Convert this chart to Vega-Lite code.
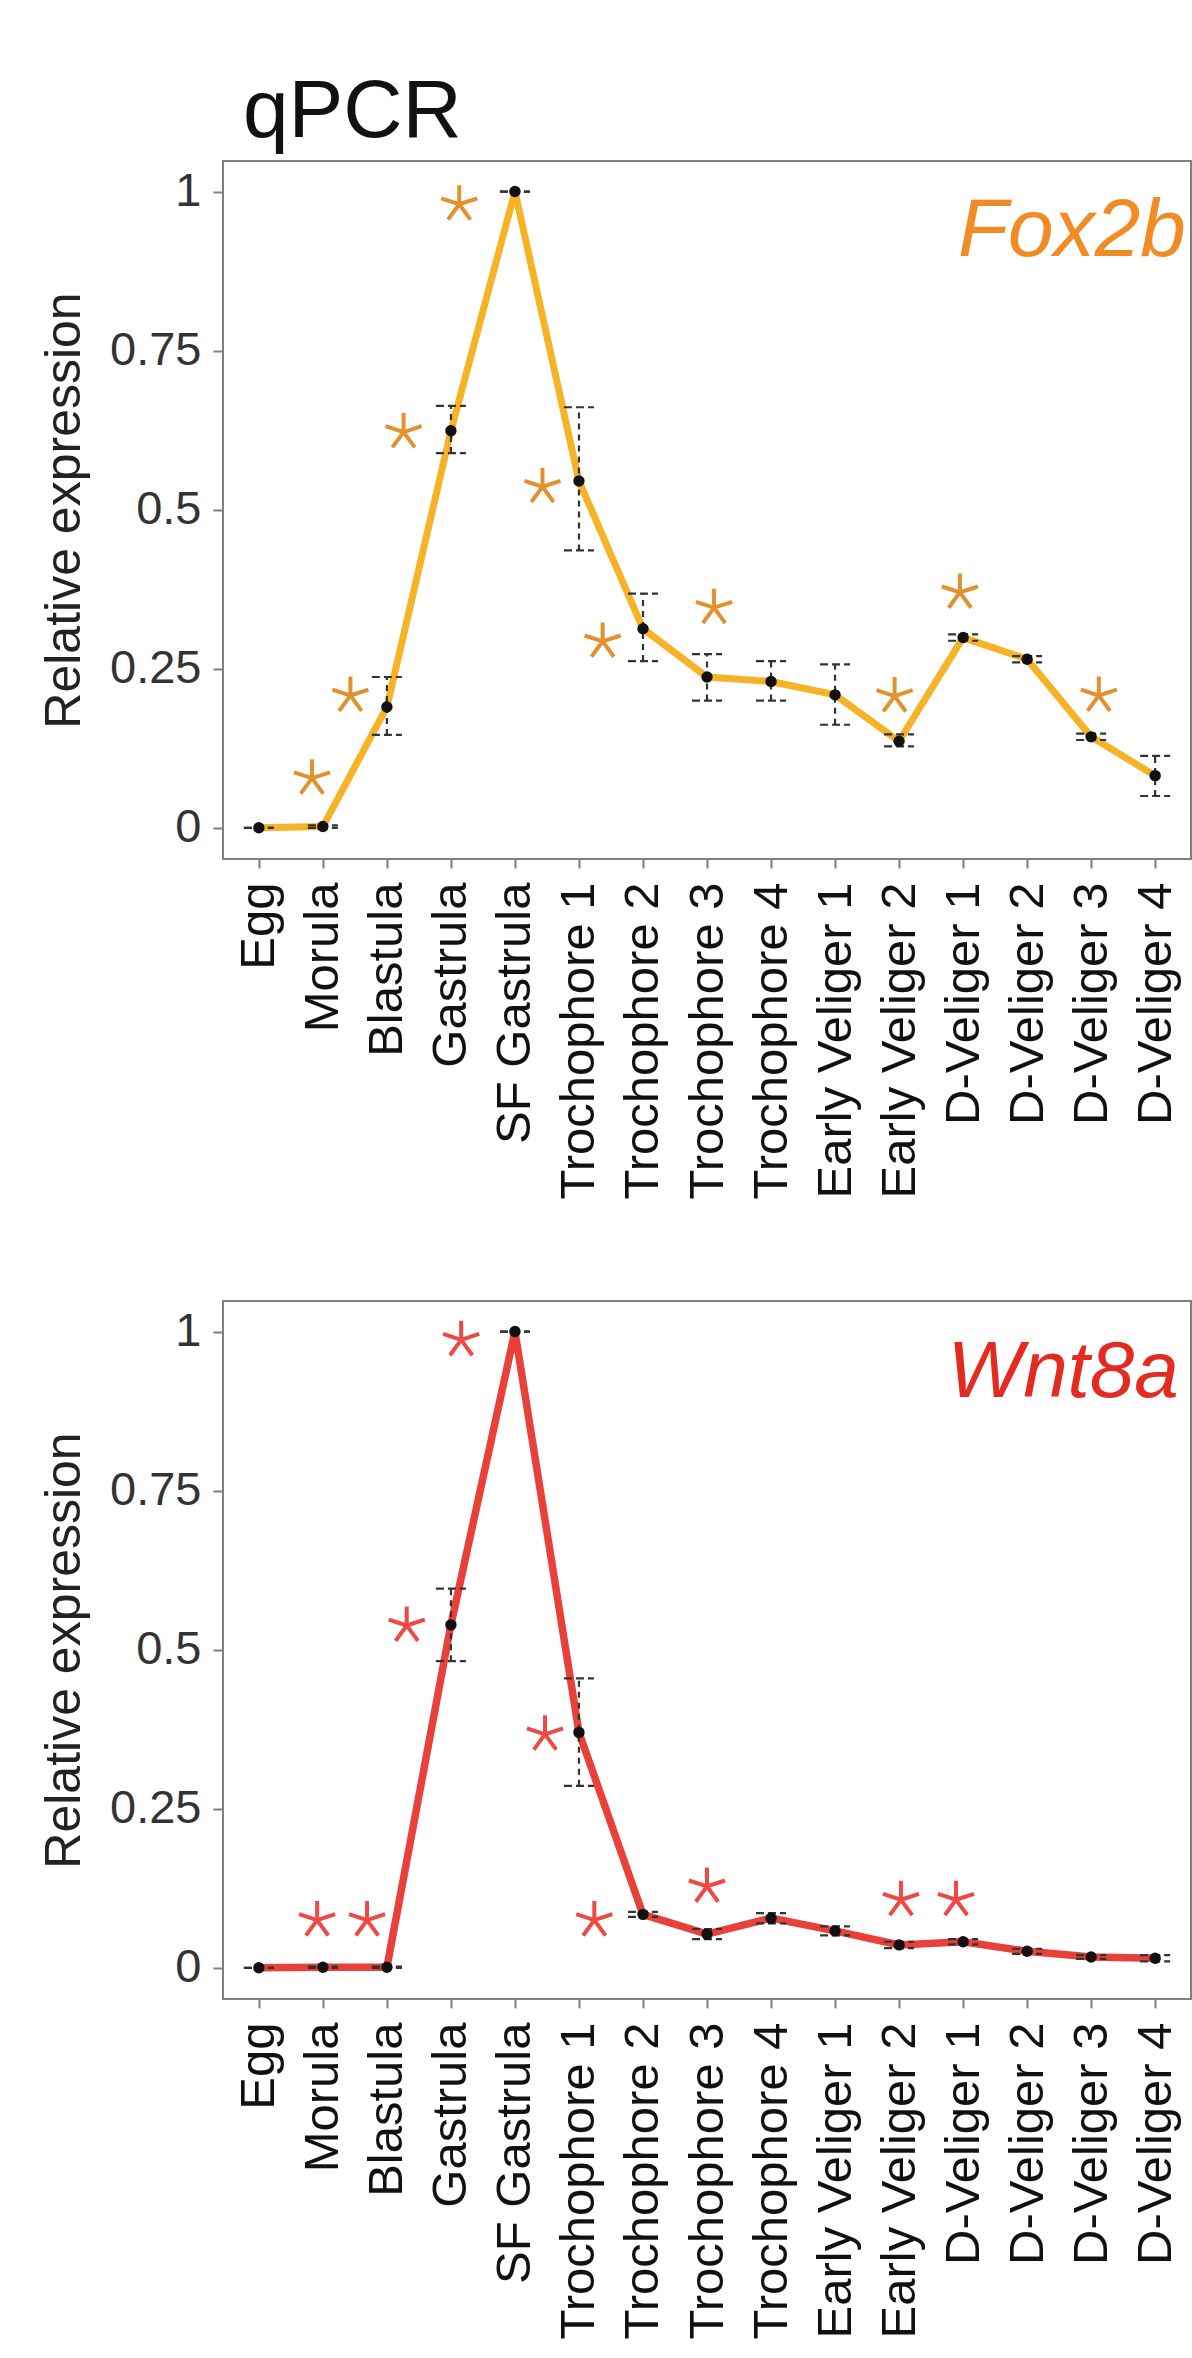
{
  "$schema": "https://vega.github.io/schema/vega-lite/v6.json",
  "background": "white",
  "padding": {"left": 38, "top": 70, "right": 0, "bottom": 0},
  "spacing": 100,
  "config": {
    "font": "Liberation Sans",
    "view": {"stroke": "#808080", "strokeWidth": 2},
    "axis": {
      "domain": false, "grid": false, "tickColor": "#808080", "tickWidth": 2,
      "labelFont": "Liberation Sans", "titleFont": "Liberation Sans",
      "titleFontWeight": "normal", "titleColor": "#222", "labelColor": "#222", "labelLimit": 0
    }
  },
  "datasets": {
    "fox": [
      {"i": 0, "stage": "Egg", "v": 0, "lo": 0, "hi": 0},
      {"i": 1, "stage": "Morula", "v": 0.002, "lo": 0, "hi": 0.004},
      {"i": 2, "stage": "Blastula", "v": 0.19, "lo": 0.146, "hi": 0.237},
      {"i": 3, "stage": "Gastrula", "v": 0.624, "lo": 0.589, "hi": 0.663},
      {"i": 4, "stage": "SF Gastrula", "v": 1, "lo": 1, "hi": 1},
      {"i": 5, "stage": "Trochophore 1", "v": 0.545, "lo": 0.436, "hi": 0.661},
      {"i": 6, "stage": "Trochophore 2", "v": 0.313, "lo": 0.262, "hi": 0.368},
      {"i": 7, "stage": "Trochophore 3", "v": 0.237, "lo": 0.2, "hi": 0.273},
      {"i": 8, "stage": "Trochophore 4", "v": 0.23, "lo": 0.2, "hi": 0.262},
      {"i": 9, "stage": "Early Veliger 1", "v": 0.209, "lo": 0.162, "hi": 0.257},
      {"i": 10, "stage": "Early Veliger 2", "v": 0.136, "lo": 0.128, "hi": 0.147},
      {"i": 11, "stage": "D-Veliger 1", "v": 0.299, "lo": 0.294, "hi": 0.304},
      {"i": 12, "stage": "D-Veliger 2", "v": 0.265, "lo": 0.26, "hi": 0.27},
      {"i": 13, "stage": "D-Veliger 3", "v": 0.143, "lo": 0.138, "hi": 0.148},
      {"i": 14, "stage": "D-Veliger 4", "v": 0.082, "lo": 0.05, "hi": 0.113}
    ],
    "foxStar": [
      {"pos": 0.83, "y": 0.078}, {"pos": 1.43, "y": 0.208}, {"pos": 2.26, "y": 0.622},
      {"pos": 3.13, "y": 0.98}, {"pos": 4.43, "y": 0.536}, {"pos": 5.37, "y": 0.293},
      {"pos": 7.11, "y": 0.346}, {"pos": 9.93, "y": 0.207}, {"pos": 10.95, "y": 0.37},
      {"pos": 13.12, "y": 0.208}
    ],
    "wnt": [
      {"i": 0, "stage": "Egg", "v": 0, "lo": 0, "hi": 0},
      {"i": 1, "stage": "Morula", "v": 0.001, "lo": 0, "hi": 0.002},
      {"i": 2, "stage": "Blastula", "v": 0.001, "lo": 0, "hi": 0.002},
      {"i": 3, "stage": "Gastrula", "v": 0.539, "lo": 0.482, "hi": 0.596},
      {"i": 4, "stage": "SF Gastrula", "v": 1, "lo": 1, "hi": 1},
      {"i": 5, "stage": "Trochophore 1", "v": 0.37, "lo": 0.286, "hi": 0.455},
      {"i": 6, "stage": "Trochophore 2", "v": 0.084, "lo": 0.08, "hi": 0.088},
      {"i": 7, "stage": "Trochophore 3", "v": 0.053, "lo": 0.045, "hi": 0.061},
      {"i": 8, "stage": "Trochophore 4", "v": 0.078, "lo": 0.07, "hi": 0.086},
      {"i": 9, "stage": "Early Veliger 1", "v": 0.058, "lo": 0.051, "hi": 0.065},
      {"i": 10, "stage": "Early Veliger 2", "v": 0.036, "lo": 0.031, "hi": 0.041},
      {"i": 11, "stage": "D-Veliger 1", "v": 0.041, "lo": 0.037, "hi": 0.045},
      {"i": 12, "stage": "D-Veliger 2", "v": 0.026, "lo": 0.022, "hi": 0.03},
      {"i": 13, "stage": "D-Veliger 3", "v": 0.017, "lo": 0.014, "hi": 0.02},
      {"i": 14, "stage": "D-Veliger 4", "v": 0.015, "lo": 0.01, "hi": 0.02}
    ],
    "wntStar": [
      {"pos": 0.91, "y": 0.075}, {"pos": 1.69, "y": 0.075}, {"pos": 2.31, "y": 0.538},
      {"pos": 3.16, "y": 0.987}, {"pos": 4.47, "y": 0.367}, {"pos": 5.24, "y": 0.075},
      {"pos": 7.0, "y": 0.128}, {"pos": 10.03, "y": 0.107}, {"pos": 10.89, "y": 0.107}
    ],
    "labels": [
      {"gene": "Fox2b", "pos": 14.48, "y": 0.898},
      {"gene": "Wnt8a", "pos": 14.37, "y": 0.897}
    ]
  },
  "vconcat": [
    {
      "width": 968,
      "height": 698,
      "title": {"text": "qPCR", "fontSize": 82, "font": "Liberation Sans", "fontWeight": "normal", "anchor": "start", "frame": "group", "dx": 20, "offset": -58, "baseline": "alphabetic", "color": "#111"},
      "encoding": {
        "x": {"field": "i", "type": "quantitative",
          "scale": {"domain": [-0.56, 14.56], "nice": false, "zero": false},
          "axis": {"title": null, "values": [0,1,2,3,4,5,6,7,8,9,10,11,12,13,14],
            "labelExpr": "['Egg','Morula','Blastula','Gastrula','SF Gastrula','Trochophore 1','Trochophore 2','Trochophore 3','Trochophore 4','Early Veliger 1','Early Veliger 2','D-Veliger 1','D-Veliger 2','D-Veliger 3','D-Veliger 4'][datum.value]",
            "labelAngle": -90, "labelFontSize": 49, "labelColor": "#111", "labelPadding": 14, "tickSize": 9, "labelOverlap": false, "labelBound": false, "labelFlush": false}},
        "y": {"field": "v", "type": "quantitative",
          "scale": {"domain": [-0.049, 1.048], "nice": false, "zero": false},
          "axis": {"title": "Relative expression", "titleFontSize": 50, "titlePadding": 20, "values": [0, 0.25, 0.5, 0.75, 1], "labelExpr": "'' + datum.value", "labelFontSize": 47, "labelPadding": 12, "tickSize": 10, "labelColor": "#333"}}
      },
      "layer": [
        {"data": {"name": "fox"}, "mark": {"type": "line", "color": "#F6B327", "strokeWidth": 7}},
        {"data": {"name": "fox"}, "mark": {"type": "rule", "color": "#333333", "strokeWidth": 2.2, "strokeDash": [6, 5]},
          "encoding": {"y": {"field": "lo", "type": "quantitative"}, "y2": {"field": "hi"}}},
        {"data": {"name": "fox"}, "mark": {"type": "rule", "color": "#333333", "strokeWidth": 2.2, "strokeDash": [8, 4], "xOffset": -15, "x2Offset": 15},
          "encoding": {"x2": {"field": "i"}, "y": {"field": "hi", "type": "quantitative"}}},
        {"data": {"name": "fox"}, "mark": {"type": "rule", "color": "#333333", "strokeWidth": 2.2, "strokeDash": [8, 4], "xOffset": -15, "x2Offset": 15},
          "encoding": {"x2": {"field": "i"}, "y": {"field": "lo", "type": "quantitative"}}},
        {"data": {"name": "fox"}, "mark": {"type": "point", "filled": true, "color": "#111", "size": 130, "opacity": 1}},
        {"data": {"name": "foxStar"}, "mark": {"type": "point", "filled": false, "shape": "M0,0L0,-1M0,0L0.95,-0.31M0,0L0.59,0.81M0,0L-0.59,0.81M0,0L-0.95,-0.31", "size": 1444, "strokeWidth": 4, "color": "#E2912F", "opacity": 1},
          "encoding": {"x": {"field": "pos", "type": "quantitative"}, "y": {"field": "y", "type": "quantitative"}}},
        {"data": {"name": "labels"}, "transform": [{"filter": "datum.gene === 'Fox2b'"}],
          "mark": {"type": "text", "align": "right", "baseline": "alphabetic", "fontSize": 82, "fontStyle": "italic", "font": "Liberation Sans", "color": "#F08B25"},
          "encoding": {"x": {"field": "pos", "type": "quantitative"}, "y": {"field": "y", "type": "quantitative"}, "text": {"field": "gene"}}}
      ]
    },
    {
      "width": 968,
      "height": 698,
      "encoding": {
        "x": {"field": "i", "type": "quantitative",
          "scale": {"domain": [-0.56, 14.56], "nice": false, "zero": false},
          "axis": {"title": null, "values": [0,1,2,3,4,5,6,7,8,9,10,11,12,13,14],
            "labelExpr": "['Egg','Morula','Blastula','Gastrula','SF Gastrula','Trochophore 1','Trochophore 2','Trochophore 3','Trochophore 4','Early Veliger 1','Early Veliger 2','D-Veliger 1','D-Veliger 2','D-Veliger 3','D-Veliger 4'][datum.value]",
            "labelAngle": -90, "labelFontSize": 49, "labelColor": "#111", "labelPadding": 14, "tickSize": 9, "labelOverlap": false, "labelBound": false, "labelFlush": false}},
        "y": {"field": "v", "type": "quantitative",
          "scale": {"domain": [-0.049, 1.048], "nice": false, "zero": false},
          "axis": {"title": "Relative expression", "titleFontSize": 50, "titlePadding": 20, "values": [0, 0.25, 0.5, 0.75, 1], "labelExpr": "'' + datum.value", "labelFontSize": 47, "labelPadding": 12, "tickSize": 10, "labelColor": "#333"}}
      },
      "layer": [
        {"data": {"name": "wnt"}, "mark": {"type": "line", "color": "#E8413A", "strokeWidth": 7.5}},
        {"data": {"name": "wnt"}, "mark": {"type": "rule", "color": "#333333", "strokeWidth": 2.2, "strokeDash": [6, 5]},
          "encoding": {"y": {"field": "lo", "type": "quantitative"}, "y2": {"field": "hi"}}},
        {"data": {"name": "wnt"}, "mark": {"type": "rule", "color": "#333333", "strokeWidth": 2.2, "strokeDash": [8, 4], "xOffset": -15, "x2Offset": 15},
          "encoding": {"x2": {"field": "i"}, "y": {"field": "hi", "type": "quantitative"}}},
        {"data": {"name": "wnt"}, "mark": {"type": "rule", "color": "#333333", "strokeWidth": 2.2, "strokeDash": [8, 4], "xOffset": -15, "x2Offset": 15},
          "encoding": {"x2": {"field": "i"}, "y": {"field": "lo", "type": "quantitative"}}},
        {"data": {"name": "wnt"}, "mark": {"type": "point", "filled": true, "color": "#111", "size": 130, "opacity": 1}},
        {"data": {"name": "wntStar"}, "mark": {"type": "point", "filled": false, "shape": "M0,0L0,-1M0,0L0.95,-0.31M0,0L0.59,0.81M0,0L-0.59,0.81M0,0L-0.95,-0.31", "size": 1444, "strokeWidth": 4, "color": "#EE4A45", "opacity": 1},
          "encoding": {"x": {"field": "pos", "type": "quantitative"}, "y": {"field": "y", "type": "quantitative"}}},
        {"data": {"name": "labels"}, "transform": [{"filter": "datum.gene === 'Wnt8a'"}],
          "mark": {"type": "text", "align": "right", "baseline": "alphabetic", "fontSize": 80, "fontStyle": "italic", "font": "Liberation Sans", "color": "#E42B21"},
          "encoding": {"x": {"field": "pos", "type": "quantitative"}, "y": {"field": "y", "type": "quantitative"}, "text": {"field": "gene"}}}
      ]
    }
  ]
}
